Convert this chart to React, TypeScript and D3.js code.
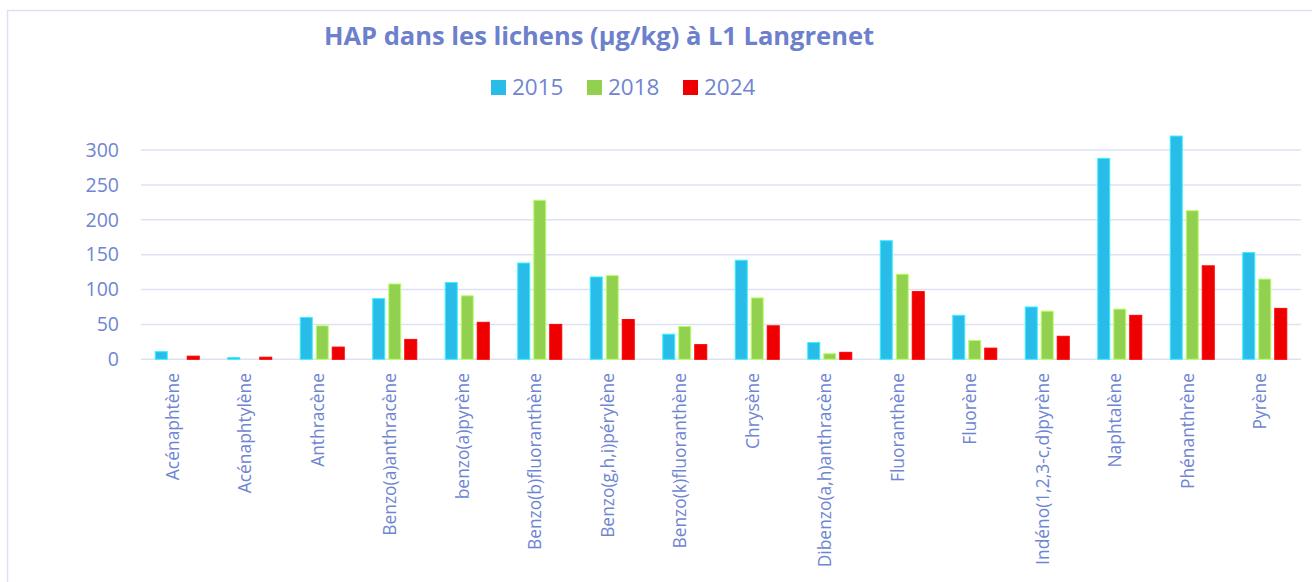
import { FC } from 'react'
import * as d3 from 'd3'

const categories = [
  'Acénaphtène', 'Acénaphtylène', 'Anthracène', 'Benzo(a)anthracène', 'benzo(a)pyrène',
  'Benzo(b)fluoranthène', 'Benzo(g,h,i)pérylène', 'Benzo(k)fluoranthène', 'Chrysène',
  'Dibenzo(a,h)anthracène', 'Fluoranthène', 'Fluorène', 'Indéno(1,2,3-c,d)pyrène',
  'Naphtalène', 'Phénanthrène', 'Pyrène'
]
const years = ['2015', '2018', '2024']
const v2015 = [11, 2.5, 60, 87, 110, 138, 118, 36, 142, 24, 170, 63, 75, 288, 320, 153]
const v2018 = [0, 0, 48, 108, 91, 228, 120, 47, 88, 8, 122, 27, 69, 72, 213, 115]
const v2024 = [4.5, 3, 17.5, 28.5, 53, 50, 57, 21, 48, 10, 97, 16, 33, 63, 134, 73]
const yTicks = [0, 50, 100, 150, 200, 250, 300]

const series = [v2015, v2018, v2024]
const colors = ['#29bce9', '#92d050', '#ee0000']
const textColor = '#6f85d2'
const gridColor = '#dde1f3'
const font = '"Open Sans", "Noto Sans", sans-serif'

const W = 1312
const H = 582

export const App: FC = () => {
  const x0 = d3.scaleBand<string>().domain(categories).range([141, 1301]).padding(0)
  const x1 = d3.scaleBand<string>()
    .domain(years)
    .range([(x0.bandwidth() - 45) / 2, (x0.bandwidth() + 45) / 2])
    .paddingInner(3 / 16)
    .paddingOuter(0)
  const y = d3.scaleLinear().domain([0, 300]).range([359.3, 150])

  return (
    <svg width={W} height={H} style={{ position: 'absolute', left: 0, top: 0, fontFamily: font }}>
      <rect x={0} y={0} width={W} height={H} fill="#fff" />
      {/* chart frame, only top and left edges are visible */}
      <path d={`M7.5,${H} V10.5 H${W}`} fill="none" stroke={gridColor} strokeWidth={1.5} />

      <text x={599} y={44.5} textAnchor="middle" fill="#6c80cc" fontSize={25.5} fontWeight={700}>
        HAP dans les lichens (µg/kg) à L1 Langrenet
      </text>

      {/* legend */}
      {years.map((yr, i) => (
        <g key={yr} transform={`translate(${491 + i * 96},0)`}>
          <rect x={0} y={80} width={15} height={15} fill={colors[i]} />
          <text x={21} y={95} fill={textColor} fontSize={22.5}>{yr}</text>
        </g>
      ))}

      {/* grid + y axis */}
      {yTicks.map(t => (
        <g key={t}>
          <line x1={141} x2={1301} y1={y(t)} y2={y(t)} stroke={gridColor} strokeWidth={1.5} />
          <text x={119} y={y(t)} dy="0.35em" textAnchor="end" fill={textColor} fontSize={19.5}>{t}</text>
        </g>
      ))}

      {/* bars */}
      {categories.map((c, ci) => (
        <g key={c} transform={`translate(${x0(c)},0)`}>
          {series.map((vals, si) => vals[ci] > 0 && (
            <rect
              key={si}
              x={(x1(years[si]) || 0) + 0.5}
              y={y(vals[ci])}
              width={x1.bandwidth() - 1}
              height={y(0) - y(vals[ci])}
              fill={colors[si]}
              stroke={d3.color(colors[si])!.brighter(0.7).formatHex()}
              strokeWidth={1}
            />
          ))}
        </g>
      ))}

      {/* category labels */}
      {categories.map(c => (
        <text
          key={c}
          transform={`translate(${(x0(c) || 0) + x0.bandwidth() / 2 + 1},373) rotate(-90)`}
          dy="0.02em"
          textAnchor="end"
          fill={textColor}
          fontSize={17.4}
        >
          {c}
        </text>
      ))}
    </svg>
  )
}

export default App
